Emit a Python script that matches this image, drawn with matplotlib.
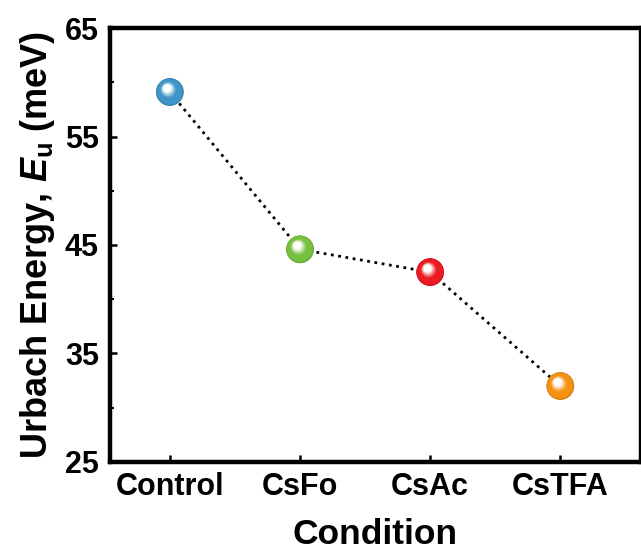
import numpy as np
import matplotlib.pyplot as plt
from matplotlib.colors import to_rgb
from matplotlib.transforms import offset_copy

conditions = ["Control", "CsFo", "CsAc", "CsTFA"]
urbach_energy = [59.1, 44.6, 42.5, 32.0]
ball_colors = ["#3f95c8", "#78c040", "#ec1a22", "#f5920f"]
y_ticks = [25, 35, 45, 55, 65]

plt.rcParams['font.family'] = ['Liberation Sans', 'DejaVu Sans']
plt.rcParams['font.weight'] = 'bold'
plt.rcParams['mathtext.fontset'] = 'custom'
plt.rcParams['mathtext.rm'] = 'Liberation Sans:bold'
plt.rcParams['mathtext.it'] = 'Liberation Sans:bold:italic'
plt.rcParams['mathtext.bf'] = 'Liberation Sans:bold'

fig = plt.figure(figsize=(6.41, 5.57), dpi=100)
ax = fig.add_axes([0.1716, 0.1706, 0.8284, 0.7791])

x = np.arange(1, len(conditions) + 1)
ax.plot(x, urbach_energy, linestyle=':', color='black', lw=2.0, zorder=2)


def draw_spheres(ax, x, y, colors, diameter=20, layers=40):
    # stack shrinking discs that slide toward the highlight to fake 3D shading
    base = np.array([to_rgb(c) for c in colors])
    white = np.ones(3)
    hx, hy = -0.24 * diameter / 2, 0.34 * diameter / 2
    for k in range(layers):
        t = k / (layers - 1)
        d = diameter * (1 - 0.92 * t)
        if t < 0.1:
            cols = base * (0.85 + 0.15 * t / 0.1)
        elif t < 0.45:
            cols = base
        else:
            w = min(1.0, (t - 0.45) / 0.35)
            cols = base * (1 - w) + white * w
        tr = offset_copy(ax.transData, fig=ax.figure, x=hx * t, y=hy * t, units='points')
        ax.scatter(x, y, s=d ** 2, c=np.clip(cols, 0, 1), linewidths=0,
                   transform=tr, zorder=3 + k * 0.01)


draw_spheres(ax, x, urbach_energy, ball_colors)

ax.set_xlim(0.54, 4.62)
ax.set_ylim(25, 65)
ax.set_xticks(x)
ax.set_xticklabels(conditions)
ax.set_yticks(y_ticks)
ax.set_yticks([30, 40, 50, 60], minor=True)

for side in ['left', 'bottom', 'top', 'right']:
    ax.spines[side].set_linewidth(3.2)

ax.tick_params(axis='both', which='major', direction='in', length=5, width=1.8,
               labelsize=22)
ax.tick_params(axis='y', which='major', pad=8)
ax.tick_params(axis='x', which='major', pad=7)
ax.tick_params(axis='y', which='minor', direction='in', length=3, width=1.5)

ax.set_xlabel("Condition", fontsize=25.5, fontweight='bold', labelpad=12)
ax.set_ylabel(r"Urbach Energy, $E_\mathrm{u}$ (meV)", fontsize=26,
              fontweight='bold', labelpad=6)

fig.savefig("out.png", dpi=100)
